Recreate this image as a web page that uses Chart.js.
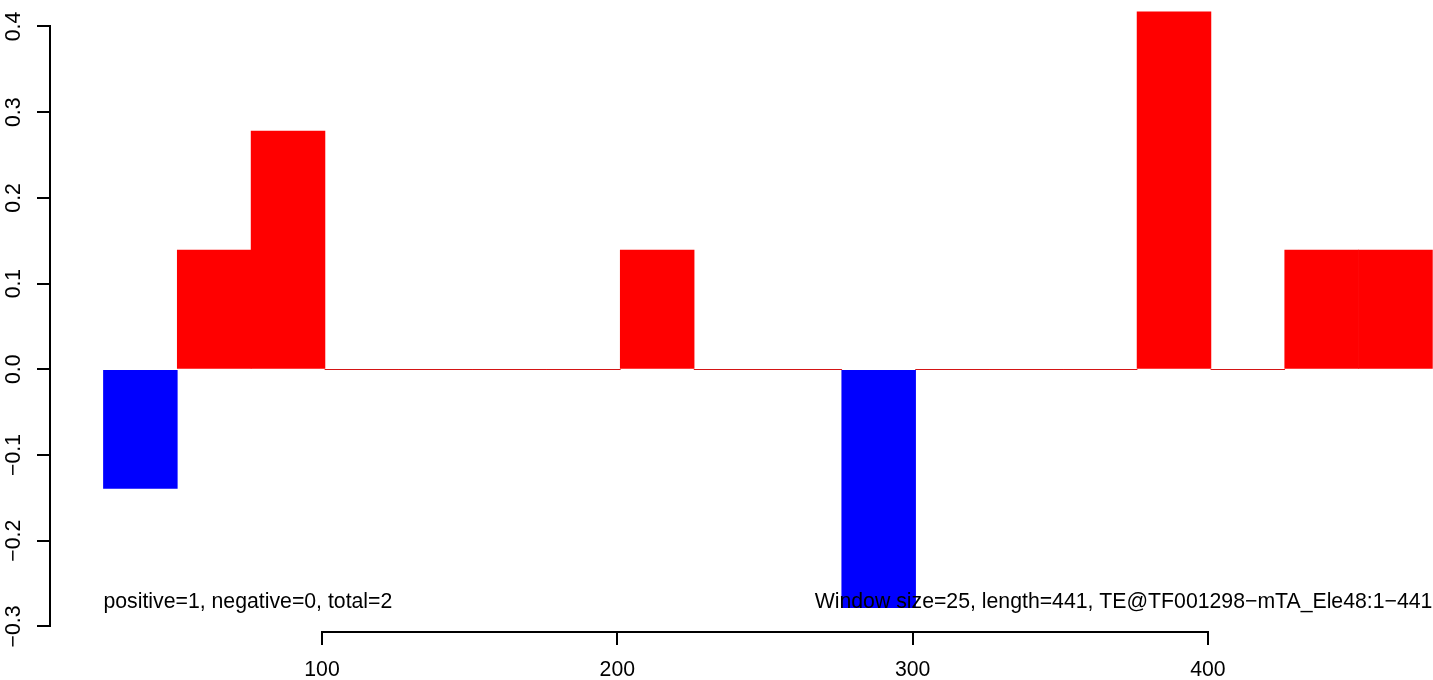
<!DOCTYPE html>
<html>
<head>
<meta charset="utf-8">
<script src="https://cdn.jsdelivr.net/npm/chart.js@4.4.0/dist/chart.umd.min.js"></script>
<style>
  html, body { margin: 0; padding: 0; background: #fff; }
  #wrap { width: 1433px; height: 680px; }
</style>
</head>
<body>
<div id="wrap"><canvas id="chart"></canvas></div>
<script>
// =============================================================================
// DATA
// =============================================================================

const WINDOW_SIZE = 25;

// left edge of each window and its score
const windowStarts = [26, 51, 76, 101, 126, 151, 176, 201, 226, 251, 276, 301, 326, 351, 376, 401, 426, 451];
const windowScores = [-0.139, 0.139, 0.278, 0, 0, 0, 0, 0.139, 0, 0, -0.278, 0, 0, 0, 0.417, 0, 0.139, 0.139];

const xTicks = [100, 200, 300, 400];
const yTicks = [-0.3, -0.2, -0.1, 0, 0.1, 0.2, 0.3, 0.4];

const leftNote = 'positive=1, negative=0, total=2';
const rightNote = 'Window size=25, length=441, TE@TF001298\u2212mTA_Ele48:1\u2212441';
const noteY = -0.2715;

// =============================================================================
// CHART
// =============================================================================

const FONT = '"Liberation Sans", Arial, Helvetica, sans-serif';
const FONT_SIZE = 21.25;
const AXIS_LW = 2;

const barData = windowStarts.map((s, i) => ({ x: s + WINDOW_SIZE / 2, y: windowScores[i] }));
const barColors = windowScores.map(v => v < 0 ? '#0000FF' : '#FF0000');

// keep the plot region fixed: no extra room for rotated labels
function fixBox(size) {
  return (scale) => {
    if (scale.isHorizontal()) scale.height = size; else scale.width = size;
    scale.paddingTop = 0;
    scale.paddingBottom = 0;
    scale.paddingLeft = 0;
    scale.paddingRight = 0;
  };
}

// R-style extras: zero-height windows, detached axis lines, corner notes
const rStylePlugin = {
  id: 'rStyle',
  beforeDatasetsDraw(chart) {
    const { ctx, scales: { x, y } } = chart;
    const y0 = Math.round(y.getPixelForValue(0)) + 0.5;
    ctx.save();
    ctx.strokeStyle = '#555555';
    ctx.lineWidth = 1;
    windowScores.forEach((v, i) => {
      if (v !== 0) return;
      ctx.beginPath();
      ctx.moveTo(x.getPixelForValue(windowStarts[i]), y0);
      ctx.lineTo(x.getPixelForValue(windowStarts[i] + WINDOW_SIZE), y0);
      ctx.stroke();
    });
    ctx.restore();
  },
  afterDatasetsDraw(chart) {
    const { ctx, chartArea, scales: { x, y } } = chart;
    ctx.save();
    ctx.strokeStyle = '#000';
    ctx.lineWidth = AXIS_LW;
    ctx.lineCap = 'square';

    // y axis line between first and last tick
    const ax = Math.round(chartArea.left);
    ctx.beginPath();
    ctx.moveTo(ax, Math.round(y.getPixelForValue(yTicks[0])));
    ctx.lineTo(ax, Math.round(y.getPixelForValue(yTicks[yTicks.length - 1])));
    ctx.stroke();

    // x axis line between first and last tick
    const ay = Math.round(chartArea.bottom);
    ctx.beginPath();
    ctx.moveTo(Math.round(x.getPixelForValue(xTicks[0])), ay);
    ctx.lineTo(Math.round(x.getPixelForValue(xTicks[xTicks.length - 1])), ay);
    ctx.stroke();

    // notes
    ctx.fillStyle = '#000';
    ctx.font = FONT_SIZE + 'px ' + FONT;
    ctx.textBaseline = 'middle';
    const ny = y.getPixelForValue(noteY);
    ctx.textAlign = 'left';
    ctx.fillText(leftNote, x.getPixelForValue(windowStarts[0]), ny);
    ctx.textAlign = 'right';
    ctx.fillText(rightNote, x.getPixelForValue(windowStarts[windowStarts.length - 1] + WINDOW_SIZE), ny);
    ctx.restore();
  }
};

const ctx = document.getElementById('chart').getContext('2d');

new Chart(ctx, {
  type: 'bar',
  data: {
    datasets: [{
      data: barData,
      backgroundColor: barColors,
      borderWidth: 0,
      barPercentage: 1,
      categoryPercentage: 1
    }]
  },
  options: {
    responsive: true,
    maintainAspectRatio: false,
    animation: false,
    layout: { padding: 0 },
    plugins: {
      legend: { display: false },
      tooltip: { enabled: false }
    },
    scales: {
      x: {
        type: 'linear',
        offset: false,
        min: 7.9,
        max: 476.2,
        afterBuildTicks: (scale) => { scale.ticks = xTicks.map(v => ({ value: v })); },
        afterFit: fixBox(48),
        border: { display: false },
        grid: { offset: false, drawOnChartArea: false, drawTicks: true, tickLength: 13, color: '#000', lineWidth: AXIS_LW },
        ticks: {
          color: '#000',
          font: { family: FONT, size: FONT_SIZE },
          padding: 12,
          maxRotation: 0,
          autoSkip: false,
          callback: (v) => String(v)
        }
      },
      y: {
        min: -0.3065,
        max: 0.4309,
        afterBuildTicks: (scale) => { scale.ticks = yTicks.map(v => ({ value: v })); },
        afterFit: fixBox(50),
        border: { display: false },
        grid: { offset: false, drawOnChartArea: false, drawTicks: true, tickLength: 13, color: '#000', lineWidth: AXIS_LW },
        ticks: {
          color: '#000',
          font: { family: FONT, size: FONT_SIZE },
          minRotation: 90,
          maxRotation: 90,
          crossAlign: 'center',
          padding: 2,
          autoSkip: false,
          callback: (v) => v.toFixed(1).replace('-', '\u2212')
        }
      }
    }
  },
  plugins: [rStylePlugin]
});
</script>
</body>
</html>
